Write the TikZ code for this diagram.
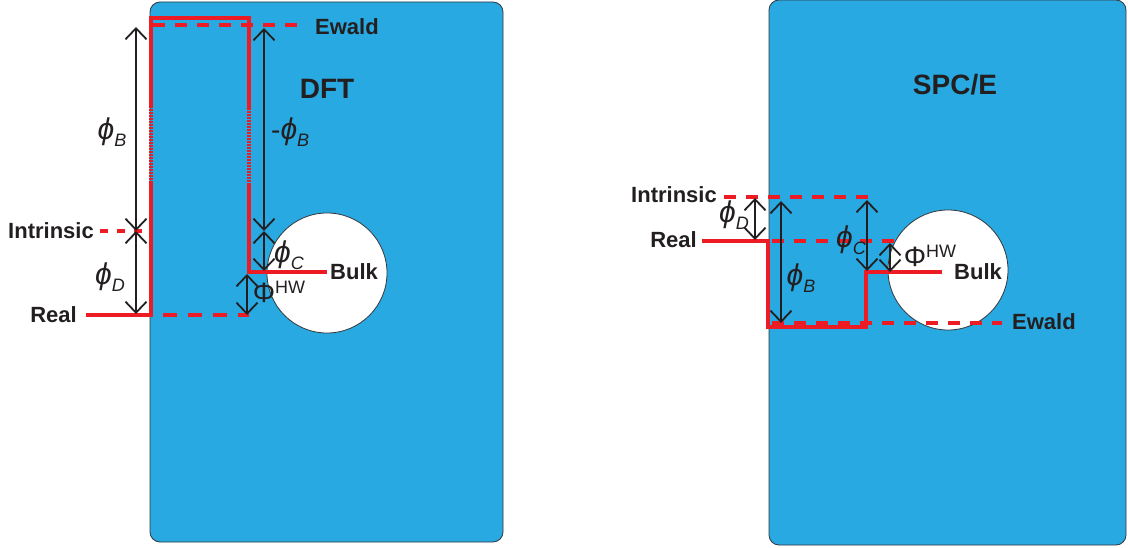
\documentclass[tikz,border=0pt]{standalone}
\usepackage{fontspec}
\setmainfont{Liberation Sans}
\usetikzlibrary{arrows.meta}
\definecolor{skyblue}{RGB}{41,169,225}
\definecolor{myred}{RGB}{237,28,36}
\definecolor{darktext}{RGB}{35,31,32}
\definecolor{panelborder}{RGB}{50,55,60}
\newcommand{\phlbl}[1]{{\fontsize{30}{30}\selectfont\itshape ϕ}\raisebox{-7pt}{\fontsize{18}{18}\selectfont\itshape #1}}
\newcommand{\Phihw}{{\fontsize{28}{28}\selectfont Φ}\raisebox{9pt}{\fontsize{18}{18}\selectfont HW}}
\tikzset{
  panel/.style={fill=skyblue, draw=panelborder, line width=0.8pt, rounded corners=10pt},
  bulkcirc/.style={fill=white, draw=panelborder, line width=0.8pt},
  redline/.style={draw=myred, line width=3.2pt, line join=miter},
  reddash/.style={draw=myred, line width=3.2pt, dash pattern=on 12pt off 10pt},
  reddot/.style={draw=myred, line width=3.2pt, dash pattern=on 1.6pt off 1.4pt},
  dim/.style={draw=darktext, line width=1.8pt, {Straight Barb[length=11pt,width=21pt]}-{Straight Barb[length=11pt,width=21pt]}},
  lbl/.style={font=\bfseries\fontsize{22}{22}\selectfont, text=darktext, inner sep=0pt},
  title/.style={font=\bfseries\fontsize{28}{28}\selectfont, text=darktext, inner sep=0pt},
  glbl/.style={text=darktext, inner sep=0pt}
}
\begin{document}
\begin{tikzpicture}[x=1pt,y=-1pt]
\useasboundingbox (0,0) rectangle (1128,548);
% panels
\draw[panel] (150,2) rectangle (503,542);
\draw[panel] (769,0) rectangle (1126,545);
\node[bulkcirc, circle, minimum size=120pt] (cl) at (327,273) {};
\node[bulkcirc, circle, minimum size=120pt] (cr) at (948,270) {};
% ---------- left panel ----------
\coordinate (lR0) at (86,315);
\coordinate (lR1) at (151,315);
\coordinate (lD1) at (151,183);
\coordinate (lD2) at (151,108);
\coordinate (lT1) at (151,18);
\coordinate (lT2) at (249,18);
\coordinate (lD3) at (249,108);
\coordinate (lD4) at (249,183);
\coordinate (lB1) at (249,272);
\coordinate (lB2) at (327,272);
\draw[redline] (lR0) -- (lR1) -- (lD1);
\draw[reddot] (lD1) -- (lD2);
\draw[redline] (lD2) -- (lT1) -- (lT2) -- (lD3);
\draw[reddot] (lD3) -- (lD4);
\draw[redline] (lD4) -- (lB1) -- (lB2);
\coordinate (lE1) at (153,25);
\coordinate (lE2) at (306,25);
\draw[reddash] (lE1) -- (lE2);
\coordinate (lI1) at (100,231);
\coordinate (lI2) at (150,231);
\draw[reddash, dash pattern=on 8pt off 9pt] (lI1) -- (lI2);
\coordinate (lRd1) at (163,315);
\coordinate (lRd2) at (249,315);
\draw[reddash, dash pattern=on 14pt off 11pt] (lRd1) -- (lRd2);
% dimension arrows left
\coordinate (la1) at (136,27);
\coordinate (la2) at (136,231);
\coordinate (la3) at (136,314);
\draw[dim] (la1) -- (la2);
\draw[dim] (la2) -- (la3);
\coordinate (lb1) at (264,28);
\coordinate (lb2) at (264,231);
\coordinate (lb3) at (264,271);
\draw[dim] (lb1) -- (lb2);
\draw[dim] (lb2) -- (lb3);
\coordinate (lc1) at (247,274);
\coordinate (lc2) at (247,315);
\draw[dim] (lc1) -- (lc2);
% labels left
\node[lbl, anchor=east] (tIntrL) at (94,231) {Intrinsic};
\node[lbl, anchor=east] (tRealL) at (77,315) {Real};
\node[lbl, anchor=west] (tEwaldL) at (315,27) {Ewald};
\node[lbl, anchor=west] (tBulkL) at (330,272) {Bulk};
\node[title] (tDFT) at (327,89) {DFT};
\node[glbl] (pBL) at (112,132) {\phlbl{B}};
\node[glbl, anchor=west] (pmBL) at (271,132) {{\fontsize{28}{28}\selectfont -}\phlbl{B}};
\node[glbl] (pDL) at (110,277) {\phlbl{D}};
\node[glbl] (pCL) at (289,255) {\phlbl{C}};
\node[glbl] (hwL) at (279,292) {\Phihw};
% ---------- right panel ----------
\coordinate (rR0) at (702,241);
\coordinate (rR1) at (768,241);
\coordinate (rR2) at (768,327);
\coordinate (rR3) at (866,327);
\coordinate (rR4) at (866,272);
\coordinate (rR5) at (942,272);
\draw[redline] (rR0) -- (rR1) -- (rR2) -- (rR3) -- (rR4) -- (rR5);
\coordinate (rI1) at (724,197);
\coordinate (rI2) at (874,197);
\draw[reddash] (rI1) -- (rI2);
\coordinate (rRd1) at (772,241);
\coordinate (rRd2) at (894,241);
\draw[reddash] (rRd1) -- (rRd2);
\coordinate (rE1) at (772,323);
\coordinate (rE2) at (1002,323);
\draw[reddash] (rE1) -- (rE2);
% dimension arrows right
\coordinate (ra1) at (755,198);
\coordinate (ra2) at (755,240);
\draw[dim] (ra1) -- (ra2);
\coordinate (rb1) at (781,201);
\coordinate (rb2) at (781,323);
\draw[dim] (rb1) -- (rb2);
\coordinate (rc1) at (867,200);
\coordinate (rc2) at (867,271);
\draw[dim] (rc1) -- (rc2);
\coordinate (rd1) at (890,243);
\coordinate (rd2) at (890,272);
\draw[dim] (rd1) -- (rd2);
% labels right
\node[lbl, anchor=east] (tIntrR) at (717,195) {Intrinsic};
\node[lbl, anchor=east] (tRealR) at (697,240) {Real};
\node[lbl, anchor=west] (tEwaldR) at (1012,322) {Ewald};
\node[lbl, anchor=west] (tBulkR) at (954,272) {Bulk};
\node[title] (tSPC) at (955,85) {SPC/E};
\node[glbl] (pDR) at (734,215) {\phlbl{D}};
\node[glbl] (pBR) at (801,278) {\phlbl{B}};
\node[glbl] (pCR) at (851,240) {\phlbl{C}};
\node[glbl] (hwR) at (930,256) {\Phihw};
\end{tikzpicture}
\end{document}
